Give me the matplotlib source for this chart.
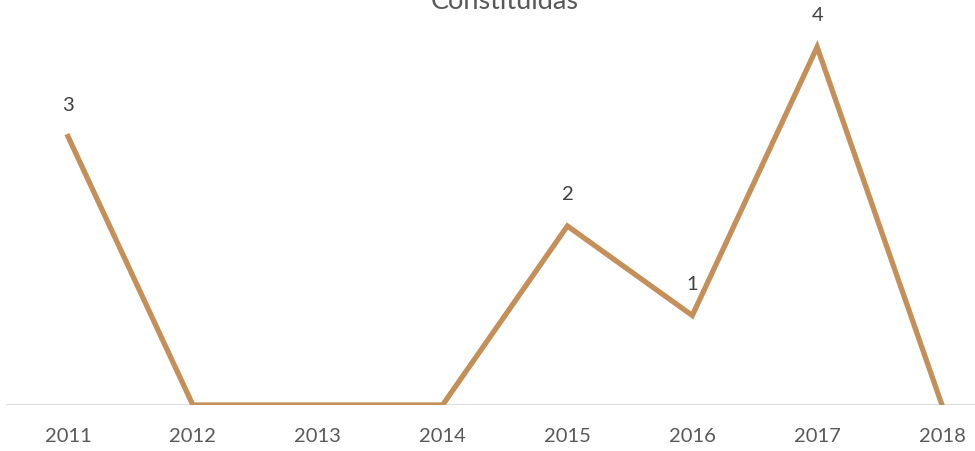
import matplotlib.pyplot as plt

years = ['2011', '2012', '2013', '2014', '2015', '2016', '2017', '2018']
counts = [3, 0, 0, 0, 2, 1, 4, 0]
labels = ['3', '', '', '', '2', '1', '4', '']

plt.rcParams['font.family'] = ['Lato', 'DejaVu Sans']

fig = plt.figure(figsize=(9.75, 4.52), dpi=100)
ax = fig.add_axes([0.0, 46 / 452, 1.0, 406 / 452])

x = list(range(len(years)))
ax.plot(x, counts, color='#C58F59', linewidth=3.8, solid_joinstyle='miter')

for xi, yi, lab in zip(x, counts, labels):
    if lab:
        ax.annotate(lab, (xi, yi), xytext=(0, 17), textcoords='offset points',
                    ha='center', va='bottom', fontsize=14.5, color='#404040')

# category positions: 2011 at 68px, 2018 at 942px
step = (942 - 68) / 7
ax.set_xlim(-68 / step, 7 + (975 - 942) / step)
ax.set_ylim(0, 4 + 48 / 89.5)

ax.axhline(0, xmin=7 / 975, xmax=1, color='#D9D9D9', linewidth=1.2, zorder=0)

for s in ax.spines.values():
    s.set_visible(False)
ax.set_yticks([])
ax.set_xticks(x)
ax.set_xticklabels(years, fontsize=14.5, color='#595959')
ax.tick_params(axis='x', length=0, pad=16)

fig.text(0.518, 0.996, 'Constituidas', ha='center', va='center', fontsize=19.5, color='#595959')

fig.savefig('out.png', dpi=100)
